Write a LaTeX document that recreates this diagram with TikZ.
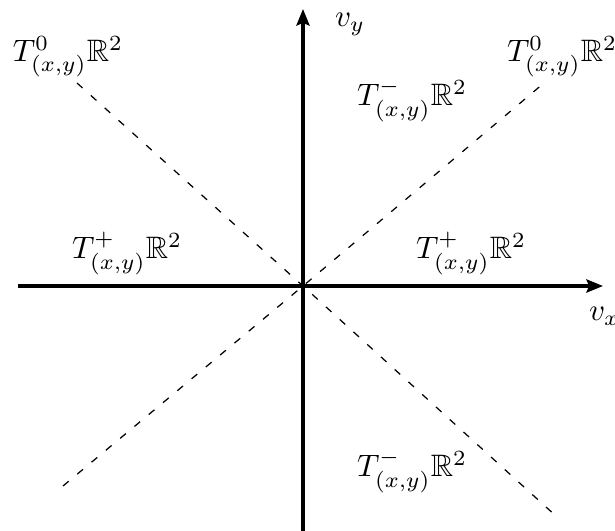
\documentclass[tikz,border=0pt]{standalone}
\usepackage{amssymb}
\usetikzlibrary{arrows.meta}
\begin{document}
\begin{tikzpicture}[x=0.3226pt,y=-0.3226pt,
  axis/.style={line width=1.1pt,-{Stealth[length=5.3pt,width=4.2pt,inset=0.8pt]}},
  cone/.style={dash pattern=on 2.4pt off 3.6pt,line width=0.4pt},
  lbl/.style={anchor=base west,inner sep=0pt,outer sep=0pt}]
\useasboundingbox (0,0) rectangle (615,531);
% coordinates
\coordinate (o) at (303,286);
\coordinate (xl) at (18,286);
\coordinate (xr) at (603,286);
\coordinate (yb) at (303,531);
\coordinate (yt) at (303,9);
\coordinate (aul) at (77,83);
\coordinate (alr) at (557,517);
\coordinate (bll) at (63,486);
\coordinate (bur) at (544,83);
% dashed lines
\draw[cone] (aul) -- (o) -- (alr);
\draw[cone] (bll) -- (o) -- (bur);
% axes
\draw[axis] (xl) -- (xr);
\draw[axis] (yb) -- (yt);
% labels
\node[lbl] (vy) at (335,27) {$v_y$};
\node[lbl] (vx) at (589,321) {$v_x$};
\node[lbl] (t0l) at (13,62) {$T^0_{(x,y)}\mathbb{R}^2$};
\node[lbl] (t0r) at (507,62) {$T^0_{(x,y)}\mathbb{R}^2$};
\node[lbl] (tmu) at (357,106) {$T^-_{(x,y)}\mathbb{R}^2$};
\node[lbl] (tpl) at (72,259) {$T^+_{(x,y)}\mathbb{R}^2$};
\node[lbl] (tpr) at (416,259) {$T^+_{(x,y)}\mathbb{R}^2$};
\node[lbl] (tmd) at (357,477) {$T^-_{(x,y)}\mathbb{R}^2$};
\end{tikzpicture}
\end{document}
